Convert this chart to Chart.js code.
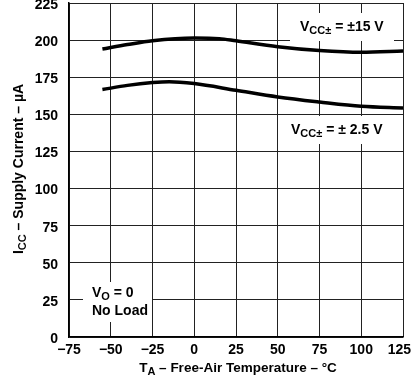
<!DOCTYPE html>
<html>
<head>
<meta charset="utf-8">
<script src="https://cdn.jsdelivr.net/npm/chart.js@4.4.1/dist/chart.umd.min.js"></script>
<style>
  html, body { margin: 0; padding: 0; background: #fff; }
  #wrap { width: 412px; height: 377px; }
</style>
</head>
<body>
<div id="wrap"><canvas id="supplyChart"></canvas></div>
<script>
// Free-air temperature (°C) and supply current (µA)
const temps15 = [-55, -40, -25, 0, 15, 25, 50, 75, 100, 125];
const icc15 = [194, 197, 199.6, 201.4, 201, 199.5, 195.6, 193, 191.8, 192.6];

const temps25 = [-55, -40, -25, -15, 0, 25, 50, 75, 100, 125];
const icc25 = [166.7, 169.5, 171.4, 172, 170.7, 166.2, 161.7, 158.3, 155.4, 154.3];

const xTicks = [-75, -50, -25, 0, 25, 50, 75, 100, 125];
const yTicks = [0, 25, 50, 75, 100, 125, 150, 175, 200, 225];

const FONT = '"Liberation Sans", Arial, sans-serif';

function toPoints(xs, ys) {
    return xs.map((x, i) => ({ x: x, y: ys[i] }));
}

// draw a run of text parts, some of them subscripts
function drawParts(ctx, parts, x, y, size, align) {
    const subSize = Math.round(size * 0.78);
    let total = 0;
    parts.forEach(p => {
        ctx.font = 'bold ' + (p.sub ? subSize : size) + 'px ' + FONT;
        total += ctx.measureText(p.t).width;
    });
    let cx = align === 'center' ? x - total / 2 : x;
    ctx.textBaseline = 'middle';
    ctx.textAlign = 'left';
    parts.forEach(p => {
        ctx.font = 'bold ' + (p.sub ? subSize : size) + 'px ' + FONT;
        ctx.fillText(p.t, cx, p.sub ? y + size * 0.3 : y);
        cx += ctx.measureText(p.t).width;
    });
}

const labelsPlugin = {
    id: 'labels',
    afterDatasetsDraw(chart) {
        const ctx = chart.ctx;
        const xs = chart.scales.x;
        ctx.save();

        // x tick labels, the last one kept inside the canvas
        ctx.font = 'bold 14px ' + FONT;
        ctx.fillStyle = '#000';
        ctx.textAlign = 'center';
        ctx.textBaseline = 'middle';
        xTicks.forEach(v => {
            const txt = String(v).replace('-', '\u2212');
            const w = ctx.measureText(txt).width;
            const px = Math.min(xs.getPixelForValue(v), chart.width - 1 - w / 2);
            ctx.fillText(txt, px, 350);
        });

        // white boxes that cut the grid under the notes
        ctx.fillStyle = '#fff';
        ctx.fillRect(290, 13, 104, 28);
        ctx.fillRect(283, 116, 111, 28);
        ctx.fillRect(83, 282, 69, 40);
        ctx.fillStyle = '#000';
        drawParts(ctx, [{t: 'V'}, {t: 'CC\u00b1', sub: true}, {t: ' = \u00b115 V'}], 300, 27, 14, 'left');
        drawParts(ctx, [{t: 'V'}, {t: 'CC\u00b1', sub: true}, {t: ' = \u00b1 2.5 V'}], 291, 130, 14, 'left');
        drawParts(ctx, [{t: 'V'}, {t: 'O', sub: true}, {t: ' = 0'}], 92, 293, 14, 'left');
        drawParts(ctx, [{t: 'No Load'}], 92, 311, 14, 'left');

        // axis titles
        drawParts(ctx, [{t: 'T'}, {t: 'A', sub: true}, {t: ' \u2013 Free-Air Temperature \u2013 \u00b0C'}], 238, 368, 13.5, 'center');
        ctx.translate(19, 169);
        ctx.rotate(-Math.PI / 2);
        drawParts(ctx, [{t: 'I'}, {t: 'CC', sub: true}, {t: ' \u2013 Supply Current \u2013 \u00b5A'}], 0, 0, 14, 'center');
        ctx.restore();
    }
};

new Chart(document.getElementById('supplyChart').getContext('2d'), {
    type: 'line',
    data: {
        datasets: [{
            label: 'VCC = ±15 V',
            data: toPoints(temps15, icc15),
            borderColor: '#000',
            borderWidth: 3.5,
            pointRadius: 0,
            cubicInterpolationMode: 'monotone',
            fill: false
        }, {
            label: 'VCC = ±2.5 V',
            data: toPoints(temps25, icc25),
            borderColor: '#000',
            borderWidth: 3.5,
            pointRadius: 0,
            cubicInterpolationMode: 'monotone',
            fill: false
        }]
    },
    options: {
        responsive: true,
        maintainAspectRatio: false,
        animation: false,
        layout: { padding: { left: 0, right: 9, top: 3, bottom: 0 } },
        plugins: {
            legend: { display: false },
            tooltip: { enabled: false }
        },
        scales: {
            x: {
                type: 'linear',
                min: -75,
                max: 125,
                afterBuildTicks: s => { s.ticks = xTicks.map(v => ({ value: v })); },
                afterFit: s => { s.height = 40; s.paddingLeft = 0; s.paddingRight = 0; },
                ticks: { display: false },
                grid: { color: '#222', lineWidth: 1, drawTicks: false },
                border: { color: '#000', width: 1.5 }
            },
            y: {
                min: 0,
                max: 225,
                afterBuildTicks: s => { s.ticks = yTicks.map(v => ({ value: v })); },
                afterFit: s => { s.width = 69; s.paddingTop = 0; s.paddingBottom = 0; },
                ticks: {
                    color: '#000',
                    font: { family: FONT, size: 14, weight: 'bold' },
                    padding: 11,
                    labelOffset: 2
                },
                grid: { color: '#222', lineWidth: 1, drawTicks: false },
                border: { color: '#000', width: 1.5 }
            }
        }
    },
    plugins: [labelsPlugin]
});
</script>
</body>
</html>
